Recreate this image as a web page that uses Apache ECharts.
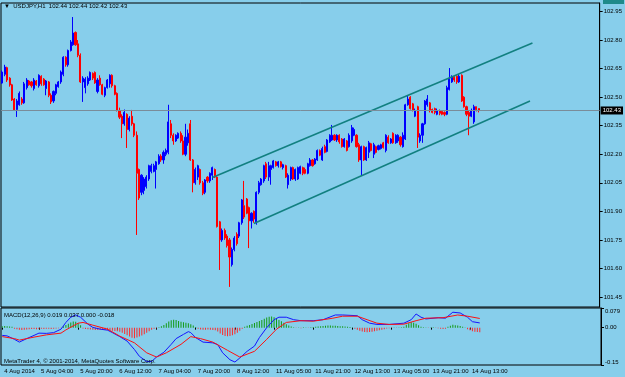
<!DOCTYPE html>
<html>
<head>
<meta charset="utf-8">
<script src="https://cdn.jsdelivr.net/npm/echarts@6/dist/echarts.min.js"></script>
<style>
  html, body { margin: 0; padding: 0; background: #87ceeb; }
  #chart { width: 625px; height: 377px; }
</style>
</head>
<body>
<div id="chart"></div>
<script>
// USDJPY H1, one row per bar: [open, close, low, high], first bar = 4 Aug 13:00
const candles = [
  [102.574, 102.632, 102.57, 102.64], [102.62, 102.658, 102.61, 102.67], [102.655, 102.59, 102.58, 102.66],
  [102.60, 102.564, 102.555, 102.605], [102.565, 102.485, 102.48, 102.57], [102.49, 102.433, 102.428, 102.495],
  [102.435, 102.48, 102.396, 102.49], [102.46, 102.52, 102.455, 102.53], [102.49, 102.47, 102.46, 102.50],
  [102.47, 102.57, 102.465, 102.58], [102.55, 102.59, 102.54, 102.60], [102.585, 102.565, 102.56, 102.59],
  [102.58, 102.56, 102.55, 102.585], [102.545, 102.59, 102.535, 102.60], [102.585, 102.565, 102.56, 102.59],
  [102.56, 102.615, 102.55, 102.62], [102.61, 102.57, 102.56, 102.615], [102.595, 102.565, 102.56, 102.60],
  [102.545, 102.585, 102.51, 102.59], [102.58, 102.51, 102.50, 102.585], [102.51, 102.475, 102.464, 102.52],
  [102.48, 102.53, 102.47, 102.535], [102.52, 102.565, 102.51, 102.57], [102.555, 102.58, 102.55, 102.585],
  [102.58, 102.632, 102.57, 102.64], [102.62, 102.71, 102.61, 102.715], [102.71, 102.67, 102.66, 102.715],
  [102.67, 102.745, 102.66, 102.75], [102.745, 102.79, 102.74, 102.80], [102.775, 102.837, 102.77, 102.921],
  [102.84, 102.775, 102.77, 102.845], [102.78, 102.72, 102.71, 102.80], [102.72, 102.58, 102.575, 102.73],
  [102.58, 102.60, 102.475, 102.61], [102.55, 102.595, 102.52, 102.605], [102.57, 102.60, 102.56, 102.61],
  [102.59, 102.63, 102.585, 102.635], [102.625, 102.60, 102.59, 102.63], [102.63, 102.575, 102.57, 102.635],
  [102.53, 102.59, 102.52, 102.60], [102.60, 102.565, 102.56, 102.615], [102.565, 102.515, 102.51, 102.57],
  [102.51, 102.55, 102.50, 102.555], [102.55, 102.59, 102.545, 102.595], [102.57, 102.615, 102.55, 102.62],
  [102.615, 102.56, 102.55, 102.62], [102.56, 102.515, 102.51, 102.565], [102.52, 102.43, 102.425, 102.525],
  [102.43, 102.395, 102.385, 102.445], [102.40, 102.36, 102.285, 102.41], [102.36, 102.42, 102.35, 102.435],
  [102.41, 102.33, 102.233, 102.415], [102.33, 102.39, 102.32, 102.40], [102.40, 102.36, 102.35, 102.433],
  [102.36, 102.30, 102.29, 102.365], [102.30, 102.10, 101.776, 102.32], [102.12, 101.97, 101.96, 102.125],
  [102.00, 102.09, 101.985, 102.095], [102.01, 102.07, 101.99, 102.08], [102.03, 102.08, 102.02, 102.09],
  [102.07, 102.14, 102.06, 102.145], [102.11, 102.14, 102.10, 102.15], [102.11, 102.14, 102.105, 102.15],
  [102.12, 102.16, 102.02, 102.165], [102.15, 102.19, 102.145, 102.20], [102.19, 102.17, 102.16, 102.20],
  [102.17, 102.21, 102.15, 102.22], [102.20, 102.22, 102.19, 102.23], [102.21, 102.37, 102.20, 102.46],
  [102.36, 102.30, 102.285, 102.38], [102.30, 102.27, 102.25, 102.31], [102.27, 102.30, 102.265, 102.305],
  [102.285, 102.31, 102.28, 102.315], [102.31, 102.27, 102.26, 102.32], [102.27, 102.20, 102.195, 102.30],
  [102.20, 102.29, 102.19, 102.36], [102.26, 102.31, 102.245, 102.33], [102.36, 102.17, 102.165, 102.38],
  [102.17, 102.05, 102.00, 102.175], [102.05, 102.12, 102.04, 102.13], [102.08, 102.14, 102.065, 102.145],
  [102.12, 102.05, 102.04, 102.125], [102.05, 101.995, 101.985, 102.06], [102.00, 102.065, 101.99, 102.07],
  [102.08, 102.06, 102.05, 102.085], [102.06, 102.10, 102.05, 102.105], [102.09, 102.13, 102.065, 102.135],
  [102.12, 102.08, 102.075, 102.125], [102.08, 101.82, 101.815, 102.085], [101.845, 101.75, 101.592, 101.85],
  [101.75, 101.80, 101.74, 101.81], [101.80, 101.76, 101.75, 101.81], [101.77, 101.72, 101.71, 101.78],
  [101.75, 101.66, 101.503, 101.76], [101.62, 101.70, 101.61, 101.71], [101.70, 101.76, 101.69, 101.77],
  [101.78, 101.73, 101.72, 101.79], [101.77, 101.84, 101.76, 101.845], [101.84, 101.96, 101.83, 101.965],
  [101.93, 101.87, 101.86, 102.06], [101.965, 101.89, 101.885, 101.97], [101.92, 101.85, 101.707, 101.925],
  [101.85, 101.89, 101.81, 101.895], [101.90, 101.86, 101.84, 101.905], [101.84, 102.00, 101.83, 102.005],
  [102.00, 102.05, 101.99, 102.06], [102.04, 102.07, 102.035, 102.075], [102.06, 102.14, 102.05, 102.145],
  [102.15, 102.08, 102.07, 102.16], [102.08, 102.14, 102.06, 102.16], [102.12, 102.14, 102.04, 102.145],
  [102.13, 102.165, 102.125, 102.17], [102.16, 102.14, 102.135, 102.165], [102.14, 102.16, 102.13, 102.165],
  [102.16, 102.135, 102.13, 102.165], [102.13, 102.145, 102.12, 102.15], [102.14, 102.08, 102.075, 102.145],
  [102.04, 102.09, 102.02, 102.10], [102.07, 102.13, 102.06, 102.135], [102.13, 102.07, 102.065, 102.135],
  [102.07, 102.12, 102.06, 102.125], [102.07, 102.13, 102.065, 102.135], [102.10, 102.135, 102.095, 102.14],
  [102.13, 102.10, 102.09, 102.135], [102.12, 102.10, 102.095, 102.13], [102.10, 102.15, 102.095, 102.155],
  [102.14, 102.17, 102.135, 102.18], [102.17, 102.14, 102.135, 102.175], [102.15, 102.175, 102.145, 102.18],
  [102.17, 102.22, 102.165, 102.225], [102.22, 102.195, 102.19, 102.225], [102.17, 102.23, 102.165, 102.24],
  [102.24, 102.21, 102.205, 102.25], [102.215, 102.275, 102.21, 102.28], [102.265, 102.30, 102.26, 102.305],
  [102.275, 102.30, 102.27, 102.354], [102.30, 102.275, 102.27, 102.305], [102.275, 102.30, 102.265, 102.305],
  [102.30, 102.265, 102.255, 102.305], [102.28, 102.24, 102.235, 102.285], [102.24, 102.28, 102.235, 102.285],
  [102.27, 102.22, 102.215, 102.275], [102.24, 102.30, 102.235, 102.31], [102.27, 102.34, 102.26, 102.354],
  [102.30, 102.33, 102.295, 102.34], [102.30, 102.24, 102.235, 102.305], [102.25, 102.17, 102.16, 102.26],
  [102.17, 102.24, 102.091, 102.245], [102.24, 102.17, 102.165, 102.245], [102.17, 102.235, 102.165, 102.24],
  [102.21, 102.26, 102.18, 102.27], [102.255, 102.22, 102.215, 102.26], [102.20, 102.25, 102.18, 102.26],
  [102.24, 102.21, 102.205, 102.245], [102.225, 102.245, 102.22, 102.25], [102.23, 102.25, 102.225, 102.255],
  [102.26, 102.235, 102.23, 102.265], [102.22, 102.30, 102.21, 102.305], [102.29, 102.26, 102.255, 102.30],
  [102.26, 102.28, 102.255, 102.285], [102.31, 102.26, 102.255, 102.315], [102.26, 102.30, 102.255, 102.305],
  [102.27, 102.30, 102.26, 102.305], [102.29, 102.25, 102.24, 102.295], [102.24, 102.30, 102.235, 102.315],
  [102.28, 102.46, 102.275, 102.465], [102.46, 102.49, 102.455, 102.51], [102.50, 102.44, 102.435, 102.505],
  [102.465, 102.43, 102.425, 102.47], [102.40, 102.43, 102.395, 102.44], [102.45, 102.29, 102.233, 102.455],
  [102.27, 102.30, 102.26, 102.31], [102.30, 102.36, 102.26, 102.365], [102.36, 102.48, 102.355, 102.485],
  [102.46, 102.49, 102.45, 102.511], [102.47, 102.43, 102.42, 102.475], [102.435, 102.42, 102.415, 102.44],
  [102.44, 102.42, 102.41, 102.445], [102.41, 102.43, 102.405, 102.44], [102.43, 102.415, 102.405, 102.435],
  [102.425, 102.41, 102.405, 102.43], [102.42, 102.41, 102.40, 102.425], [102.41, 102.55, 102.405, 102.56],
  [102.54, 102.60, 102.535, 102.653], [102.58, 102.605, 102.575, 102.615], [102.605, 102.59, 102.58, 102.61],
  [102.61, 102.58, 102.57, 102.615], [102.58, 102.61, 102.575, 102.62], [102.615, 102.48, 102.475, 102.62],
  [102.50, 102.45, 102.445, 102.505], [102.45, 102.41, 102.40, 102.455], [102.42, 102.40, 102.30, 102.43],
  [102.40, 102.43, 102.395, 102.44], [102.37, 102.45, 102.36, 102.46], [102.45, 102.435, 102.425, 102.45],
  [102.44, 102.43, 102.42, 102.44]
];

// MACD(12,26,9) lines, read as [bar index, value]
const macdLine = [
  [0, -0.031], [2, -0.033], [5, -0.047], [7, -0.058], [10, -0.044], [13, -0.031], [15, -0.022],
  [18, -0.023], [21, -0.02], [24, -0.006], [26, 0.021], [28, 0.042], [30, 0.051], [32, 0.042],
  [35, 0.014], [37, 0.001], [40, -0.006], [43, -0.01], [45, -0.02], [48, -0.036], [51, -0.054],
  [54, -0.088], [56, -0.115], [59, -0.136], [61, -0.136], [63, -0.118], [66, -0.099], [69, -0.067],
  [71, -0.044], [74, -0.027], [76, -0.016], [77, -0.02], [79, -0.04], [82, -0.058], [86, -0.061],
  [88, -0.068], [90, -0.101], [93, -0.129], [95, -0.138], [97, -0.122], [100, -0.095], [103, -0.074],
  [105, -0.04], [108, 0], [111, 0.032], [113, 0.042], [116, 0.042], [119, 0.032], [122, 0.028],
  [127, 0.028], [131, 0.032], [136, 0.051], [139, 0.051], [145, 0.048], [147, 0.032], [150, 0.018],
  [153, 0.013], [158, 0.013], [164, 0.018], [167, 0.032], [169, 0.055], [171, 0.042], [173, 0.035],
  [178, 0.04], [181, 0.038], [184, 0.062], [187, 0.059], [190, 0.042], [192, 0.024], [195, 0.019]
];
const signalLine = [
  [0, -0.036], [5, -0.044], [7, -0.05], [13, -0.038], [18, -0.029], [24, -0.022], [26, -0.009],
  [31, 0.018], [33, 0.021], [37, 0.01], [43, -0.006], [48, -0.034], [54, -0.061], [59, -0.101],
  [63, -0.118], [67, -0.101], [73, -0.067], [77, -0.036], [81, -0.044], [86, -0.058], [92, -0.091],
  [97, -0.118], [103, -0.095], [108, -0.047], [112, -0.006], [116, 0.021], [122, 0.028], [127, 0.026],
  [135, 0.038], [139, 0.046], [145, 0.046], [149, 0.032], [153, 0.018], [158, 0.013], [164, 0.014],
  [169, 0.028], [173, 0.038], [180, 0.04], [186, 0.051], [190, 0.046], [195, 0.037]
];
// MACD histogram, one value per bar
const histogram = [
  0.006, 0.007, 0.006, 0.005, 0.004,
  -0.004, -0.006, -0.008, -0.009, -0.008, -0.007, -0.006, -0.005, -0.005, -0.006,
  -0.005, -0.004, -0.005, -0.004, -0.004, -0.005, -0.004, -0.003, -0.002, -0.001,
  0.006, 0.011, 0.016, 0.021, 0.025, 0.024, 0.018, 0.01,
  -0.003, -0.005, -0.006, -0.007, -0.008, -0.009, -0.009, -0.008, -0.008, -0.009, -0.01, -0.011, -0.012, -0.013, -0.014,
  -0.016, -0.02, -0.025, -0.03, -0.036, -0.041, -0.043, -0.04, -0.036, -0.031, -0.026, -0.02, -0.014,
  -0.008, -0.004, -0.002, 0.002, 0.006,
  0.011, 0.018, 0.025, 0.03, 0.032, 0.031, 0.027, 0.024, 0.022, 0.02, 0.018, 0.014, 0.009,
  0.003,
  -0.004, -0.007, -0.008, -0.008, -0.007, -0.008, -0.009, -0.01,
  -0.015, -0.023, -0.029, -0.033, -0.034, -0.033, -0.03, -0.026, -0.02, -0.012,
  -0.004,
  0.004, 0.008, 0.011, 0.015, 0.019, 0.023, 0.027, 0.031, 0.036, 0.041,
  0.044, 0.045, 0.042, 0.037, 0.031, 0.026, 0.02, 0.014, 0.009, 0.005,
  0.002, -0.001, 0.001, -0.002, 0.002, 0.001, -0.001, 0.002, 0.003, 0.004,
  0.005, 0.006, 0.007, 0.008, 0.009, 0.009, 0.008, 0.008, 0.007, 0.006, 0.006, 0.005, 0.004, 0.003, 0.001,
  -0.004, -0.008, -0.012, -0.015, -0.017, -0.018, -0.017, -0.016, -0.014, -0.012, -0.01, -0.008, -0.006, -0.003,
  -0.002, -0.001, 0.001, -0.001, 0.001, 0.002, 0.004,
  0.012, 0.018, 0.022, 0.02, 0.016, 0.01, 0.004,
  0.002, 0.001, -0.001, 0.001, 0.002, -0.001, -0.002, -0.004, -0.005, -0.004,
  0.004, 0.008, 0.012, 0.01, 0.009, 0.007, 0.004, 0.001,
  -0.006, -0.01, -0.014, -0.016, -0.017, -0.018
];

// channel trend lines: [bar index, price]
const upperChannel = [[86, 102.078], [217, 102.785]];
const lowerChannel = [[103, 101.836], [216, 102.48]];
const lastPrice = 102.43;

const priceTicks = [101.45, 101.60, 101.75, 101.90, 102.05, 102.20, 102.35, 102.50, 102.65, 102.80, 102.95];
const macdTicks = [-0.15, 0, 0.079];
const macdTickLabels = ['-0.15', '0.00', '0.079'];
const timeLabelPos = [0, 15, 31, 47, 63, 79, 95, 111, 127, 143, 159, 175, 191];
const timeLabels = ['4 Aug 2014', '5 Aug 04:00', '5 Aug 20:00', '6 Aug 12:00', '7 Aug 04:00', '7 Aug 20:00',
  '8 Aug 12:00', '11 Aug 05:00', '11 Aug 21:00', '12 Aug 13:00', '13 Aug 05:00', '13 Aug 21:00', '14 Aug 13:00'];

const SLOTS = 245; // bar slots across the chart width, incl. empty space on the right
const slots = Array.from({ length: SLOTS }, (_, i) => String(i));
const font = "'Liberation Sans', Arial, sans-serif";
const small = { fontSize: 6, color: '#000', fontFamily: font, fontWeight: 'normal' };

const chart = echarts.init(document.getElementById('chart'));
const showTime = (i) => timeLabelPos.indexOf(i) >= 0;

chart.setOption({
  animation: false,
  backgroundColor: '#87ceeb',
  title: [
    { text: '▼  USDJPY,H1  102.44 102.44 102.42 102.43', left: 4, top: 3, padding: 0, textStyle: small },
    { text: 'MACD(12,26,9) 0.019 0.037 0.000 -0.018', left: 4, top: 312, padding: 0, textStyle: small },
    { text: 'MetaTrader 4, © 2001-2014, MetaQuotes Software Corp.', left: 4, top: 358, padding: 0, textStyle: small }
  ],
  grid: [
    { left: 1, top: 3, width: 600, height: 304, show: true, borderColor: '#000', borderWidth: 1 },
    { left: 1, top: 308, width: 600, height: 57, show: true, borderColor: '#000', borderWidth: 1 }
  ],
  xAxis: [
    {
      type: 'category', gridIndex: 0, data: slots,
      axisLine: { show: false }, axisTick: { show: false }, axisLabel: { show: false }
    },
    {
      type: 'category', gridIndex: 1, data: slots,
      axisLine: { show: false },
      axisTick: { show: true, alignWithLabel: true, interval: showTime, length: 2, lineStyle: { color: '#000' } },
      axisLabel: {
        interval: showTime, align: 'left', margin: 3, padding: [0, 0, 0, 2],
        formatter: (v, i) => timeLabels[timeLabelPos.indexOf(i)] || '',
        ...small
      }
    }
  ],
  yAxis: [
    {
      type: 'value', gridIndex: 0, position: 'right', min: 101.3975, max: 102.9947,
      splitLine: { show: false },
      axisLine: { show: true, lineStyle: { color: '#000' } },
      axisTick: { show: true, customValues: priceTicks, length: 3, lineStyle: { color: '#000' } },
      axisLabel: { customValues: priceTicks, margin: 4, formatter: (v) => v.toFixed(2), ...small }
    },
    {
      type: 'value', gridIndex: 1, position: 'right', min: -0.15, max: 0.079,
      splitLine: { show: false },
      axisLine: { show: true, lineStyle: { color: '#000' } },
      axisTick: { show: true, customValues: macdTicks, length: 3, lineStyle: { color: '#000' } },
      axisLabel: {
        customValues: macdTicks, margin: 4,
        verticalAlignMinLabel: 'bottom', verticalAlignMaxLabel: 'top',
        formatter: (v) => {
          let k = 0;
          macdTicks.forEach((t, j) => { if (Math.abs(t - v) < Math.abs(macdTicks[k] - v)) k = j; });
          return macdTickLabels[k];
        },
        ...small
      }
    }
  ],
  graphic: [
    { type: 'rect', shape: { x: 603, y: -2, width: 21, height: 6 }, style: { fill: '#1f8a8a' } }
  ],
  series: [
    {
      type: 'candlestick', xAxisIndex: 0, yAxisIndex: 0, data: candles, barWidth: 1.6,
      itemStyle: { color: '#0000ff', color0: '#ff0000', borderColor: '#0000ff', borderColor0: '#ff0000', borderWidth: 1 },
      markLine: {
        silent: true, symbol: ['none', 'none'],
        data: [{ yAxis: lastPrice }],
        lineStyle: { color: '#7a8c99', width: 1, type: 'solid' },
        label: {
          position: 'end', distance: 1, formatter: lastPrice.toFixed(2),
          backgroundColor: '#000', color: '#fff', fontSize: 6, fontFamily: font, padding: [1, 2, 1, 2]
        }
      }
    },
    {
      type: 'line', xAxisIndex: 0, yAxisIndex: 0, data: upperChannel, symbol: 'none', silent: true,
      lineStyle: { color: '#128080', width: 1.6 }
    },
    {
      type: 'line', xAxisIndex: 0, yAxisIndex: 0, data: lowerChannel, symbol: 'none', silent: true,
      lineStyle: { color: '#128080', width: 1.6 }
    },
    {
      type: 'bar', xAxisIndex: 1, yAxisIndex: 1, data: histogram, barWidth: 1,
      itemStyle: { color: (p) => (p.value >= 0 ? '#139a13' : '#ff2a2a') }
    },
    {
      type: 'line', xAxisIndex: 1, yAxisIndex: 1, data: macdLine, symbol: 'none',
      lineStyle: { color: '#1515ff', width: 1 }
    },
    {
      type: 'line', xAxisIndex: 1, yAxisIndex: 1, data: signalLine, symbol: 'none',
      lineStyle: { color: '#ff1010', width: 1 }
    }
  ]
});
</script>
</body>
</html>
